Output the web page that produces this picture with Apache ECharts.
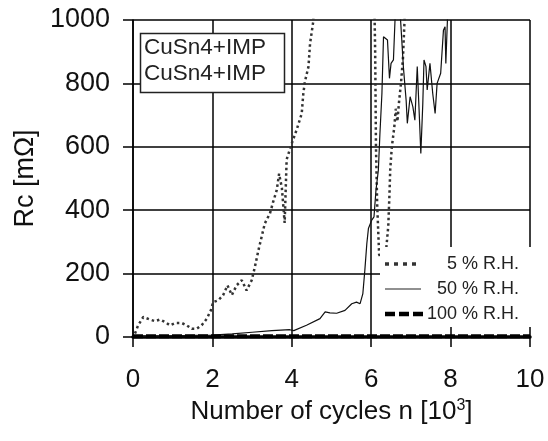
<!DOCTYPE html>
<html>
<head>
<meta charset="utf-8">
<script src="https://cdn.jsdelivr.net/npm/echarts@6/dist/echarts.min.js"></script>
<style>html,body{margin:0;padding:0;background:#fff}#c{width:548px;height:441px}</style>
</head>
<body>
<div id="c"></div>
<script>
var xTicks = [0, 2, 4, 6, 8, 10];
var yTicks = [0, 200, 400, 600, 800, 1000];

var x5 = [0.05,0.13,0.26,0.43,0.55,0.68,0.81,0.93,1.06,1.23,1.35,1.48,1.6,1.73,1.86,1.96,2.02,2.15,2.27,2.38,2.49,2.61,2.74,2.86,2.99,3.07,3.16,3.24,3.32,3.45,3.53,3.62,3.68,3.75,3.82,3.87,4.0,4.12,4.25,4.29,4.33,4.42,4.46,4.54,4.6,6.06,6.1,6.12,6.15,6.2,6.3,6.38,6.43,6.46,6.48,6.52,6.58,6.62,6.66,6.7,6.75,6.8,6.84,6.88];
var y5 = [11,37,63,55,50,55,47,37,44,44,37,26,26,37,58,84,110,116,132,163,132,163,179,147,179,221,274,316,358,390,426,463,515,470,360,560,611,653,705,768,805,853,926,995,1200,1200,900,600,420,260,240,280,350,450,530,600,660,720,680,740,800,880,1000,1200];

var x50 = [0,0.5,1,1.5,2,2.5,3,3.5,3.95,4.05,4.37,4.71,4.84,4.96,5.13,5.34,5.51,5.63,5.72,5.79,5.84,5.89,5.93,5.97,6.01,6.07,6.12,6.18,6.22,6.27,6.31,6.35,6.41,6.46,6.5,6.56,6.6,6.67,6.74,6.81,6.88,6.91,6.98,7.05,7.1,7.16,7.21,7.25,7.3,7.33,7.38,7.41,7.48,7.55,7.61,7.66,7.75,7.82,7.86,7.88,7.92,7.96];
var y50 = [2,3,4,5,6,10,15,20,23,20,37,58,79,76,75,84,105,110,105,137,211,295,342,347,368,379,463,526,642,768,947,953,937,816,863,874,1000,1150,1000,853,747,674,758,726,684,853,705,579,737,874,853,779,863,768,705,800,832,968,979,863,1000,1200];

var x100 = [0, 2, 4, 6, 8, 10];
var y100 = [2, 2, 2, 2, 2, 2];

var seriesNames = ['5 % R.H.', '50 % R.H.', '100 % R.H.'];
var boxLabels = ['CuSn4+IMP', 'CuSn4+IMP'];

function zip(xs, ys) { return xs.map(function (x, i) { return [x, ys[i]]; }); }

var FONT = 'Liberation Sans, Arial, sans-serif';
var chart = echarts.init(document.getElementById('c'), null, {renderer: 'canvas'});
chart.setOption({
  backgroundColor: '#fff',
  animation: false,
  grid: {left: 133, right: 18, top: 20, bottom: 104},
  xAxis: {
    type: 'value', min: xTicks[0], max: xTicks[xTicks.length - 1], interval: 2,
    name: 'Number of cycles n [10{s|3}]',
    nameLocation: 'middle', nameGap: 60,
    nameTextStyle: {fontSize: 26, color: '#111', fontFamily: FONT,
      rich: {s: {fontSize: 16, color: '#111', fontFamily: FONT, verticalAlign: 'top', padding: [0, 0, 12, 0]}}},
    axisLine: {show: true, onZero: false, lineStyle: {color: '#000', width: 3.5}},
    axisTick: {show: true, length: 10, lineStyle: {color: '#000', width: 1.5}},
    axisLabel: {fontSize: 26, color: '#111', fontFamily: FONT, margin: 30},
    splitLine: {show: true, lineStyle: {color: '#000', width: 1.5}}
  },
  yAxis: {
    type: 'value', min: yTicks[0], max: yTicks[yTicks.length - 1], interval: 200,
    name: 'Rc [mΩ]', nameLocation: 'middle', nameGap: 90, nameRotate: 90,
    nameTextStyle: {fontSize: 27, color: '#111', fontFamily: FONT},
    axisLine: {show: true, lineStyle: {color: '#000', width: 1.5}},
    axisTick: {show: true, length: 10, lineStyle: {color: '#000', width: 1.5}},
    axisLabel: {fontSize: 27, color: '#111', fontFamily: FONT, margin: 23,
      formatter: function (v) { return String(v); }},
    splitLine: {show: true, lineStyle: {color: '#000', width: 1.5}}
  },
  series: [
    {name: seriesNames[0], type: 'line', data: zip(x5, y5), showSymbol: false, clip: true,
     lineStyle: {color: '#333', width: 2.5, type: [2.5, 3]}},
    {name: seriesNames[1], type: 'line', data: zip(x50, y50), showSymbol: false, clip: true,
     lineStyle: {color: '#111', width: 1.2}},
    {name: seriesNames[2], type: 'line', data: zip(x100, y100), showSymbol: false, clip: true,
     lineStyle: {color: '#000', width: 4, type: [10, 3]}}
  ],
  graphic: [
    {type: 'rect', z: 100, shape: {x: 140.5, y: 33.5, width: 144, height: 59},
     style: {fill: '#fff', stroke: '#222', lineWidth: 1.5}},
    {type: 'text', z: 101, x: 144, y: 48, style: {text: boxLabels[0], fontSize: 22.5, fontFamily: FONT, fill: '#222', verticalAlign: 'middle'}},
    {type: 'text', z: 101, x: 144, y: 74, style: {text: boxLabels[1], fontSize: 22.5, fontFamily: FONT, fill: '#222', verticalAlign: 'middle'}},
    {type: 'rect', z: 100, shape: {x: 380, y: 247, width: 153, height: 80}, style: {fill: '#fff'}},
    {type: 'line', z: 101, shape: {x1: 385, y1: 264, x2: 416, y2: 264}, style: {stroke: '#333', lineWidth: 3.5, lineDash: [4, 5]}},
    {type: 'line', z: 101, shape: {x1: 385, y1: 289, x2: 421, y2: 289}, style: {stroke: '#222', lineWidth: 1.2}},
    {type: 'line', z: 101, shape: {x1: 385, y1: 314, x2: 423, y2: 314}, style: {stroke: '#000', lineWidth: 4.5, lineDash: [10, 4]}},
    {type: 'text', z: 101, x: 519, y: 264, style: {text: seriesNames[0], fontSize: 18, fontFamily: FONT, fill: '#222', align: 'right', verticalAlign: 'middle'}},
    {type: 'text', z: 101, x: 519, y: 289, style: {text: seriesNames[1], fontSize: 18, fontFamily: FONT, fill: '#222', align: 'right', verticalAlign: 'middle'}},
    {type: 'text', z: 101, x: 519, y: 314, style: {text: seriesNames[2], fontSize: 18, fontFamily: FONT, fill: '#222', align: 'right', verticalAlign: 'middle'}}
  ]
});
</script>
</body>
</html>
